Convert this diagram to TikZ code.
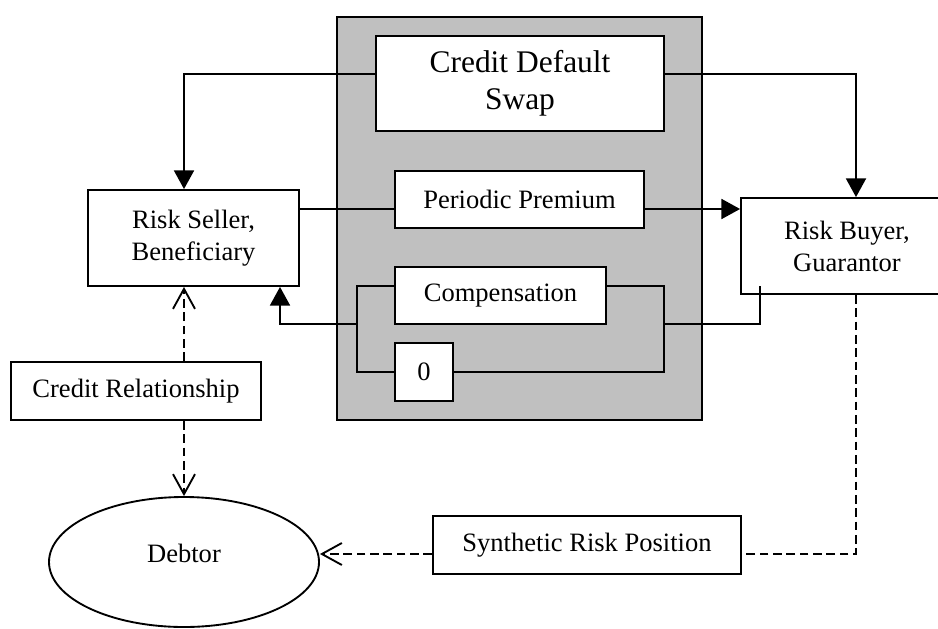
\documentclass[tikz,border=0pt]{standalone}
\usepackage{fontspec}
\setmainfont{Liberation Serif}
\usetikzlibrary{arrows.meta,shapes.geometric}
\definecolor{panel}{RGB}{192,192,192}
\newcommand{\labelfont}{\fontsize{19.9pt}{24pt}\selectfont}
\newcommand{\titlefont}{\fontsize{23.6pt}{27.75pt}\selectfont}
\begin{document}
\begin{tikzpicture}[x=0.75pt,y=-0.75pt,
  stroke/.style={line width=1.4pt},
  box/.style={draw, stroke, fill=white, rectangle, inner sep=0pt, align=center, font=\labelfont},
  solidtip/.style={-{Triangle[length=14pt,width=15pt]}},
  opentip/.style={-{Straight Barb[length=15pt,width=16.5pt]}},
  dashline/.style={dash pattern=on 6.5pt off 3.5pt},
]
\useasboundingbox (0,0) rectangle (938,628);

% grey panel holding the swap contract
\node[draw, stroke, fill=panel, minimum width=273.75pt, minimum height=302.25pt, inner sep=0pt] (swaparea) at (519.5,218.5) {};

% boxes
\node[box, minimum width=216pt, minimum height=71.25pt, font=\titlefont] (cds) at (520,83.5) {Credit Default\\Swap};
\node[box, minimum width=158.25pt, minimum height=72pt] (seller) at (193.5,238) {Risk Seller,\\Beneficiary};
\node[box, minimum width=159pt, minimum height=72pt] (buyer) at (847,246) {Risk Buyer,\\Guarantor};
\node[box, minimum width=186.75pt, minimum height=42.75pt] (premium) at (519.5,199.5) {Periodic Premium};
\node[box, minimum width=158.25pt, minimum height=42.75pt] (comp) at (500.5,295.5) {Compensation};
\node[box, minimum width=43.5pt, minimum height=43.5pt] (zero) at (424,372) {0};
\node[box, minimum width=187.5pt, minimum height=43.5pt] (credrel) at (136,391) {Credit Relationship};
\node[box, minimum width=231pt, minimum height=43.5pt] (synth) at (587,545) {Synthetic Risk Position};
\node[draw, stroke, ellipse, fill=white, inner sep=0pt, minimum width=202.5pt, minimum height=97.5pt,
      font=\labelfont, text height=13.5pt, text depth=13.5pt] (debtor) at (184,562) {Debtor};

% attachment points
\coordinate (cdsL) at ([yshift=7.125pt]cds.west);
\coordinate (cdsR) at ([yshift=7.125pt]cds.east);
\coordinate (premL) at ([yshift=-7.125pt]premium.west);
\coordinate (premR) at ([yshift=-7.125pt]premium.east);
\coordinate (compL) at ([yshift=7.125pt]comp.west);
\coordinate (compR) at ([yshift=7.125pt]comp.east);
\coordinate (jl) at (357,324);
\coordinate (jr) at (664,324);
\coordinate (buyerIn) at (760,286);
\coordinate (synL) at ([yshift=-6.75pt]synth.west);
\coordinate (synR) at ([yshift=-6.75pt]synth.east);

% contract links
\draw[stroke, solidtip] (cdsL) -| ([xshift=-7.125pt]seller.north);
\draw[stroke, solidtip] (cdsR) -| ([xshift=6.75pt]buyer.north);
\draw[stroke] (premL -| seller.east) -- (premL);
\draw[stroke, solidtip] (premR) -- (premR -| buyer.west);

% compensation / zero alternatives
\draw[stroke] (compL) -| (jl) |- (zero.west);
\draw[stroke, solidtip] (jl) -| ([xshift=64.875pt]seller.south);
\draw[stroke] (compR) -| (jr) |- (zero.east);
\draw[stroke] (jr) -| (buyerIn);

% credit relationships
\draw[stroke, dashline, opentip] ([xshift=36pt]credrel.north) -- ([xshift=-7.125pt]seller.south);
\draw[stroke, dashline, opentip] ([xshift=36pt]credrel.south) -- (debtor.north);
\draw[stroke, dashline] ([xshift=6.75pt]buyer.south) |- (synR);
\draw[stroke, dashline, opentip] (synL) -- (synL -| debtor.east);
\end{tikzpicture}
\end{document}
